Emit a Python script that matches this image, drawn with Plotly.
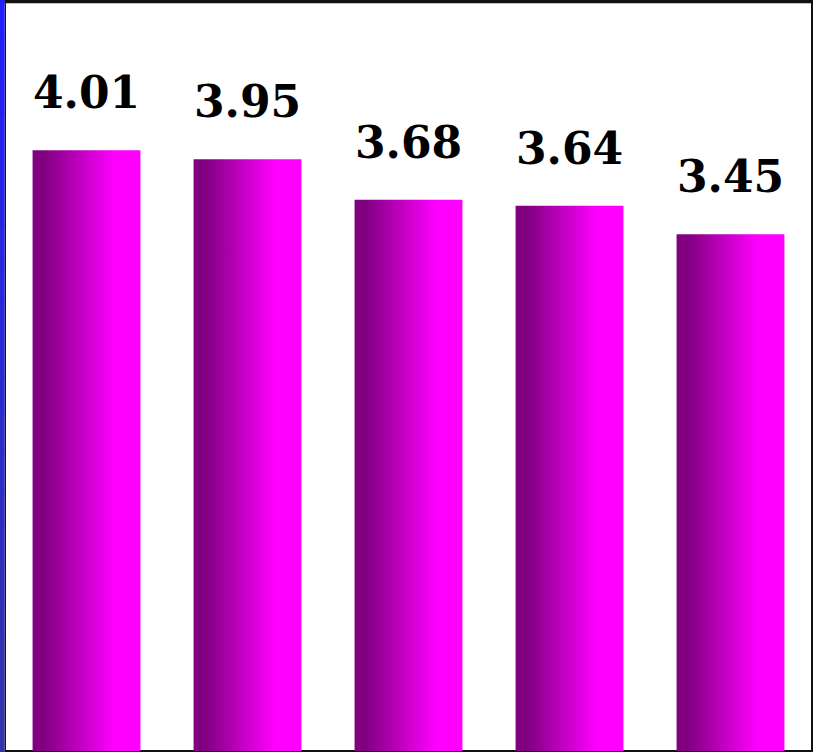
import plotly.graph_objects as go

categories = ["A", "B", "C", "D", "E"]
values = [4.01, 3.95, 3.68, 3.64, 3.45]
labels = ["4.01", "3.95", "3.68", "3.64", "3.45"]

W, H = 813, 752
ML, MR, MT, MB = 6, 2, 2, 1
PW, PH = W - ML - MR, H - MT - MB
BAR_W = 0.67

def px2x(px):
    return (px - ML) / PW

def py2y(py):
    return (H - MB - py) / PH

grad = [[0.0, "#800080"], [0.1, "#800080"], [0.76, "#ff00ff"], [1.0, "#ff00ff"]]

fig = go.Figure()
for i, v in enumerate(values):
    x0, x1 = i - BAR_W / 2, i + BAR_W / 2
    fig.add_trace(go.Scatter(
        x=[x0, x1, x1, x0, x0], y=[0, 0, v, v, 0],
        mode="lines", fill="toself", line=dict(width=0),
        fillgradient=dict(type="horizontal", colorscale=grad, start=x0, stop=x1),
        hoverinfo="skip", showlegend=False,
    ))

annotations = []
for i, (v, t) in enumerate(zip(values, labels)):
    annotations.append(dict(
        x=i, y=v, text="<b>" + t + "</b>", showarrow=False,
        xanchor="center", yanchor="bottom", yshift=30,
        font=dict(family="DejaVu Serif", size=44, color="#000000"),
    ))

shapes = []
# left blue strip with vertical shading
n = 20
top_c = (31, 31, 255)
bot_c = (51, 51, 170)
for k in range(n):
    f = k / (n - 1)
    c = tuple(int(round(top_c[j] + (bot_c[j] - top_c[j]) * f)) for j in range(3))
    shapes.append(dict(type="rect", xref="paper", yref="paper",
                       x0=px2x(0), x1=px2x(4.6),
                       y0=py2y(H * (k + 1) / n + 1), y1=py2y(H * k / n),
                       fillcolor="rgb(%d,%d,%d)" % c, line=dict(width=0), layer="above"))
# borders
shapes.append(dict(type="rect", xref="paper", yref="paper", x0=px2x(4.6), x1=px2x(6),
                   y0=py2y(H), y1=py2y(0), fillcolor="#111111", line=dict(width=0), layer="below"))
shapes.append(dict(type="rect", xref="paper", yref="paper", x0=px2x(4.6), x1=px2x(W),
                   y0=py2y(3.2), y1=py2y(0), fillcolor="#111111", line=dict(width=0), layer="above"))
shapes.append(dict(type="rect", xref="paper", yref="paper", x0=px2x(811), x1=px2x(W),
                   y0=py2y(H), y1=py2y(0), fillcolor="#111111", line=dict(width=0), layer="above"))
shapes.append(dict(type="rect", xref="paper", yref="paper", x0=px2x(4.6), x1=px2x(W),
                   y0=py2y(H), y1=py2y(750), fillcolor="#111111", line=dict(width=0), layer="below"))

fig.update_layout(
    width=W, height=H,
    margin=dict(l=ML, r=MR, t=MT, b=MB, pad=0),
    paper_bgcolor="#ffffff", plot_bgcolor="#ffffff",
    xaxis=dict(range=[-0.5, len(values) - 0.5], visible=False, fixedrange=True),
    yaxis=dict(range=[0, 5], visible=False, fixedrange=True),
    annotations=annotations, shapes=shapes, showlegend=False,
)

fig.write_html("out.html", config={"displayModeBar": False},
               post_script="document.body.style.margin='0';document.body.style.overflow='hidden';")
